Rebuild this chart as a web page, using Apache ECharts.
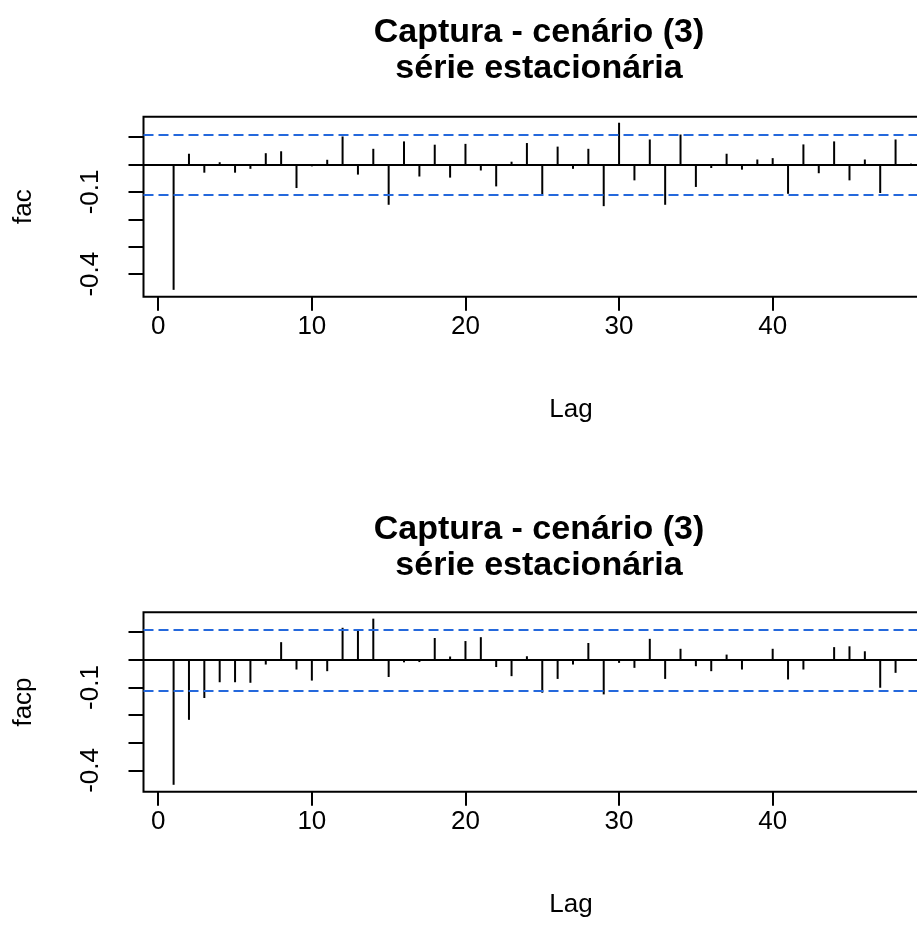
<!DOCTYPE html>
<html>
<head>
<meta charset="utf-8">
<script src="https://cdn.jsdelivr.net/npm/echarts@6/dist/echarts.min.js"></script>
<style>html,body{margin:0;padding:0;background:#fff}#c{width:917px;height:934px}</style>
</head>
<body>
<div id="c"></div>
<script>
const titleLine1 = 'Captura - cenário (3)';
const titleLine2 = 'série estacionária';
const lags = [1,2,3,4,5,6,7,8,9,10,11,12,13,14,15,16,17,18,19,20,21,22,23,24,25,26,27,28,29,30,31,32,33,34,35,36,37,38,39,40,41,42,43,44,45,46,47,48,49,50];
const facValues = [-0.457,0.039,-0.030,0.008,-0.030,-0.016,0.041,0.048,-0.086,-0.007,0.017,0.102,-0.037,0.057,-0.147,0.084,-0.044,0.072,-0.048,0.075,-0.022,-0.080,0.010,0.078,-0.108,0.065,-0.016,0.057,-0.152,0.152,-0.058,0.091,-0.147,0.109,-0.082,-0.013,0.039,-0.019,0.018,0.023,-0.107,0.073,-0.032,0.084,-0.058,0.018,-0.104,0.091,0.003,0.020];
const facpValues = [-0.452,-0.217,-0.138,-0.081,-0.081,-0.083,-0.017,0.064,-0.035,-0.075,-0.041,0.116,0.106,0.149,-0.062,-0.009,-0.008,0.079,0.012,0.068,0.082,-0.026,-0.059,0.013,-0.119,-0.069,-0.017,0.061,-0.125,-0.011,-0.029,0.076,-0.069,0.040,-0.023,-0.041,0.019,-0.035,0.002,0.040,-0.071,-0.035,-0.002,0.046,0.049,0.031,-0.101,-0.047,0.003,-0.020];
const ciLimit = 0.11;
const xTickValues = [0,10,20,30,40,50];
const xLabelValues = [0,10,20,30,40];
const yTickValues = [-0.4,-0.3,-0.2,-0.1,0,0.1];
const yLabelValues = [-0.4,-0.1];
const yNames = ['fac','facp'];

const FONT = "'Liberation Sans', Arial, sans-serif";
const chart = echarts.init(document.getElementById('c'), null, {renderer:'canvas'});

const panels = [
  {top:116.7, height:180, ymin:-0.482, ymax:0.174, values:facValues, titleTop:10},
  {top:612.3, height:179.4, ymin:-0.477, ymax:0.172, values:facpValues, titleTop:507}
];
const gridLeft = 143.5, gridWidth = 812.9;
const titleX = 534;

const option = {
  animation:false,
  backgroundColor:'#fff',
  title: panels.map(p => ({
    text: titleLine1 + '\n' + titleLine2,
    left: titleX, top: p.titleTop, textAlign:'center',
    textStyle:{fontFamily:FONT, fontSize:34, fontWeight:'bold', color:'#000', lineHeight:36}
  })),
  grid: panels.map(p => ({
    left:gridLeft, top:p.top, width:gridWidth, height:p.height,
    outerBoundsMode:'none', containLabel:false,
    show:true, borderColor:'#000', borderWidth:2, backgroundColor:'transparent'
  })),
  xAxis: panels.map((p,i) => ({
    type:'value', gridIndex:i, min:-0.96, max:51.96,
    name:'Lag', nameLocation:'middle', nameGap:113,
    nameTextStyle:{fontFamily:FONT, fontSize:26, color:'#000', verticalAlign:'middle', padding:[0,0,0,42]},
    axisLine:{show:false, onZero:false},
    axisTick:{show:true, inside:false, length:14, customValues:xTickValues, lineStyle:{color:'#000', width:2}},
    axisLabel:{show:true, customValues:xLabelValues, margin:30, verticalAlign:'middle',
      fontFamily:FONT, fontSize:26, color:'#000'},
    splitLine:{show:false}
  })),
  yAxis: panels.map((p,i) => ({
    type:'value', gridIndex:i, min:p.ymin, max:p.ymax,
    name:yNames[i], nameLocation:'middle', nameGap:120, nameRotate:90,
    nameTextStyle:{fontFamily:FONT, fontSize:26, color:'#000', verticalAlign:'middle'},
    axisLine:{show:false, onZero:false},
    axisTick:{show:true, inside:false, length:15, customValues:yTickValues, lineStyle:{color:'#000', width:2}},
    axisLabel:{show:true, customValues:yLabelValues, rotate:90, margin:53,
      align:'center', verticalAlign:'middle',
      formatter:v => Number(v).toFixed(1),
      fontFamily:FONT, fontSize:26, color:'#000'},
    splitLine:{show:false}
  })),
  series: panels.map((p,i) => ({
    type:'bar', xAxisIndex:i, yAxisIndex:i, barWidth:2,
    itemStyle:{color:'#000'},
    data: lags.map((l,k) => [l, p.values[k]]),
    markLine:{
      silent:true, symbol:'none', label:{show:false}, animation:false,
      data:[
        {yAxis:0, lineStyle:{color:'#000', width:2, type:'solid'}},
        {yAxis:ciLimit, lineStyle:{color:'#2468dc', width:2, type:[10,5]}},
        {yAxis:-ciLimit, lineStyle:{color:'#2468dc', width:2, type:[10,5]}}
      ]
    }
  }))
};
chart.setOption(option);
</script>
</body>
</html>
